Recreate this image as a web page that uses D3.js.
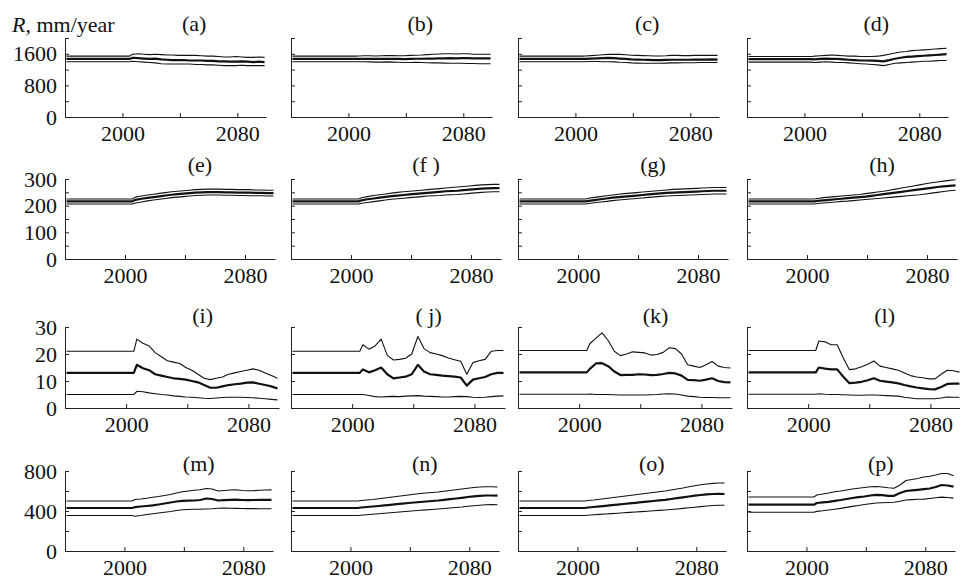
<!DOCTYPE html>
<html>
<head>
<meta charset="utf-8">
<script src="https://cdn.jsdelivr.net/npm/d3@7"></script>
<style>
    body { margin: 0; background: #fff; }
    svg text { font-family: "Liberation Serif", "Times New Roman", serif; }
</style>
</head>
<body>
<div id="chart"></div>
<script>
// * * * data * * *

// years of the sampled points (flat historical value, then projections)
const years = [1961, 2005, 2007, 2011, 2015, 2019, 2023, 2027, 2031, 2035, 2039, 2043, 2047,
    2051, 2055, 2059, 2063, 2067, 2071, 2075, 2079, 2083, 2087, 2091, 2095, 2099];

// each panel: [upper bound, median, lower bound]
const seriesA = [
    [1540,1540,1590,1600,1590,1580,1590,1580,1570,1570,1560,1560,1560,1560,1550,1540,1540,1530,1520,1520,1530,1520,1510,1510,1520,1510],
    [1470,1470,1500,1490,1480,1470,1480,1460,1450,1440,1440,1440,1430,1430,1430,1420,1420,1410,1410,1400,1400,1410,1400,1390,1400,1390],
    [1400,1400,1410,1400,1390,1380,1370,1350,1340,1340,1340,1340,1340,1330,1330,1320,1320,1310,1300,1300,1300,1310,1300,1300,1300,1300]
];
const seriesB = [
    [1540,1540,1545,1550,1550,1545,1550,1555,1555,1550,1550,1560,1565,1570,1580,1590,1595,1600,1600,1595,1600,1600,1590,1590,1590,1590],
    [1470,1470,1470,1475,1470,1470,1470,1475,1470,1470,1465,1470,1475,1475,1480,1480,1485,1485,1490,1485,1490,1490,1485,1485,1485,1485],
    [1400,1400,1400,1400,1395,1390,1390,1395,1390,1385,1380,1380,1385,1380,1375,1370,1370,1365,1360,1360,1360,1355,1355,1350,1350,1350]
];
const seriesC = [
    [1540,1540,1545,1555,1565,1575,1585,1590,1585,1575,1565,1560,1555,1550,1545,1545,1550,1560,1560,1555,1555,1560,1560,1560,1565,1560],
    [1470,1470,1470,1480,1485,1490,1495,1490,1480,1470,1460,1455,1450,1445,1440,1440,1445,1450,1450,1450,1450,1455,1455,1455,1460,1455],
    [1400,1400,1400,1405,1405,1400,1400,1395,1385,1380,1370,1365,1360,1360,1360,1360,1365,1370,1370,1375,1375,1375,1380,1380,1380,1380]
];
const seriesD = [
    [1530,1530,1540,1550,1560,1570,1560,1550,1540,1540,1530,1530,1530,1540,1560,1590,1620,1645,1660,1680,1690,1700,1710,1720,1730,1740],
    [1465,1465,1460,1470,1480,1470,1470,1460,1450,1440,1430,1430,1425,1420,1410,1440,1475,1500,1520,1530,1540,1550,1560,1570,1580,1590],
    [1390,1390,1380,1390,1400,1390,1380,1380,1370,1360,1350,1340,1330,1320,1300,1330,1360,1370,1380,1390,1400,1410,1410,1420,1430,1430]
];
const seriesE = [
    [225,225,232,236,240,243,246,249,252,254,256,258,260,261,262,262,262,261,261,260,260,260,259,259,258,258],
    [216,216,222,226,229,232,235,238,241,243,245,247,249,250,251,251,251,250,250,249,249,249,248,248,247,247],
    [206,206,210,214,218,221,224,227,230,232,234,236,238,239,240,240,240,239,239,238,238,237,237,237,236,236]
];
const seriesF = [
    [225,225,230,234,238,241,244,247,250,252,254,256,258,260,262,264,266,268,270,272,274,276,278,279,280,280],
    [216,216,220,224,227,230,233,236,238,240,242,244,246,248,250,252,254,255,256,258,260,262,264,265,266,266],
    [206,206,209,212,215,218,221,224,226,228,230,232,234,236,237,238,240,241,242,244,246,248,250,251,252,252]
];
const seriesG = [
    [225,225,228,231,234,237,240,243,245,247,249,251,253,255,257,259,261,262,263,264,265,266,267,268,268,268],
    [216,216,218,221,224,227,230,232,234,236,238,240,242,244,246,248,249,250,251,252,253,254,255,256,256,256],
    [206,206,208,211,214,216,219,221,223,225,227,229,231,233,235,236,237,238,239,240,241,242,243,244,244,244]
];
const seriesH = [
    [225,225,227,230,232,234,236,238,240,242,245,248,251,254,258,262,266,270,274,278,282,286,289,292,295,297],
    [216,216,218,220,222,224,226,228,230,232,234,237,240,243,246,249,252,255,258,261,264,267,270,272,274,276],
    [206,206,208,210,212,214,216,217,219,221,223,225,227,229,231,233,235,237,239,241,244,247,250,253,256,258]
];
const seriesI = [
    [21,21,25.5,24,23,20.5,19,17.5,17,16.5,15,14,12.5,11,10.5,11,11.5,12.5,13,13.5,14,14.5,14,13,12,11],
    [13,13,16,14.7,14,12.5,12,11.5,11,10.8,10.5,10,9.5,8.5,7.5,7.5,8,8.5,8.8,9,9.4,9.5,9,8.5,8,7.2],
    [5,5,6.2,6,5.6,5.3,5,4.8,4.5,4.3,4.1,4,3.8,3.6,3.5,3.7,3.9,4,4,4,3.9,3.8,3.6,3.4,3.2,3]
];
const seriesJ = [
    [21,21,23.4,21.8,23,25.5,19.5,17.8,18,18.4,20,26.5,22,20.5,20,19.4,18.5,17.9,17.3,12.5,16.8,17.5,18,21,21.3,21.3],
    [13,13,14.3,13.2,14,15,12.5,11,11.3,11.6,12.5,16,13.5,12.5,12.3,12,11.8,11.6,11.3,8.3,10.5,11,11.5,12.5,13,13],
    [5,5,5,4.6,4.2,4.1,4.2,4.3,4.2,4.4,4.5,4.6,4.4,4.3,4.2,4.1,4.1,4.2,4.3,4.2,4,3.9,4,4.2,4.4,4.5]
];
const seriesK = [
    [21.3,21.3,23.8,25.9,27.8,25,21,19.4,20,20.8,20.6,20.4,19.6,19.8,20.6,22.3,22,20,16,15.5,15,16,17.2,15.5,15,14.8],
    [13.2,13.2,14.5,16.5,16.6,15.5,13.5,12.2,12.3,12.3,12.5,12.4,12.2,12.3,12.6,13,12.8,12,10.4,10.3,10.1,10.5,11,10,9.6,9.5],
    [5.1,5.1,5.2,5,5,5,4.9,4.8,4.8,4.8,4.8,4.8,4.9,5,5.2,5.3,5.2,4.8,4.4,4.2,4,3.9,3.9,3.8,3.8,3.8]
];
const seriesL = [
    [21.3,21.3,24.8,24.5,23.4,23.4,18.5,14.2,14.5,15.3,16.2,17.4,15.5,15,14.5,14,13,12,11.5,11.2,10.8,10.8,12.5,14,13.8,13.3],
    [13.2,13.2,15,14.6,14.3,14.3,11.6,9.2,9.4,9.7,10.3,11,10.1,9.8,9.5,9.1,8.5,8,7.6,7.3,7,6.9,7.8,8.9,9,9],
    [5.1,5.1,5.3,5.1,5,5,4.9,4.8,4.7,4.7,4.8,4.8,4.7,4.6,4.5,4.4,4,3.7,3.4,3.4,3.4,3.4,3.7,4.1,4,4]
];
const seriesM = [
    [500,500,515,520,528,538,545,555,565,580,592,600,608,612,625,620,600,605,610,612,605,602,604,608,610,611],
    [430,430,438,445,450,456,465,475,485,495,502,503,505,510,525,520,505,508,512,513,510,508,510,512,512,512],
    [355,355,348,355,365,372,380,388,395,405,412,415,417,418,420,422,428,430,428,426,425,424,424,423,423,423]
];
const seriesN = [
    [500,500,505,510,515,522,530,538,545,552,560,568,575,580,585,590,598,605,612,620,628,635,640,642,642,640],
    [430,430,435,440,445,450,456,462,468,474,480,485,490,495,500,505,512,518,525,532,540,547,552,555,555,553],
    [355,355,358,362,367,372,377,382,387,392,397,402,407,411,415,420,425,430,435,440,447,453,458,462,464,463]
];
const seriesO = [
    [500,500,505,510,518,525,533,540,548,555,563,570,578,585,592,600,610,620,630,642,652,662,670,676,680,680],
    [430,430,435,440,446,452,458,464,470,476,482,488,494,500,506,512,520,528,536,545,553,560,566,570,572,570],
    [355,355,358,362,366,370,374,378,382,386,390,394,398,402,406,410,415,420,426,432,438,444,450,455,458,458]
];
const seriesP = [
    [540,540,560,570,580,592,600,610,620,628,635,642,645,640,632,628,660,705,715,725,740,748,760,775,775,752],
    [463,463,480,486,492,502,510,520,530,538,545,555,562,558,552,552,580,600,607,612,618,625,640,660,655,644],
    [387,387,396,402,410,418,426,436,446,455,465,473,480,483,485,487,498,510,514,517,519,525,532,539,535,529]
];

const panelTitles = ["(a)", "(b)", "(c)", "(d)", "(e)", "(f )", "(g)", "(h)",
    "(i)", "( j)", "(k)", "(l)", "(m)", "(n)", "(o)", "(p)"];

// axis ticks
const xTicks = [2000, 2040, 2080];
const xTickLabels = [2000, 2080];
const yMax = [2000, 300, 30, 800];
const yTicks = [
    [0, 400, 800, 1200, 1600, 2000],
    [0, 50, 100, 150, 200, 250, 300],
    [0, 10, 20, 30],
    [0, 200, 400, 600, 800]
];
const yTickLabels = [
    [0, 800, 1600],
    [0, 100, 200, 300],
    [0, 10, 20, 30],
    [0, 400, 800]
];

const allSeries = [seriesA, seriesB, seriesC, seriesD, seriesE, seriesF, seriesG, seriesH,
    seriesI, seriesJ, seriesK, seriesL, seriesM, seriesN, seriesO, seriesP];

// * * * layout * * *
const W = 960, H = 581;
const colX = [65, 291, 518, 747];
const rows = [
    { top: 38,  bottom: 117, width: 201, titleY: 31 },
    { top: 179, bottom: 259, width: 210, titleY: 172 },
    { top: 327, bottom: 408, width: 214, titleY: 323 },
    { top: 471, bottom: 551, width: 208, titleY: 471 }
];
const lineWidths = [1.1, 2.2, 1.1];
const fontSize = 22;

let svg = d3.select("#chart").append("svg")
    .attr("width", W)
    .attr("height", H)
    .style("background", "#fff");

// y-axis unit label
svg.append("text")
    .attr("x", 12)
    .attr("y", 32)
    .attr("font-size", fontSize)
    .attr("fill", "#111")
    .html('<tspan font-style="italic">R</tspan>, mm/year');

allSeries.forEach((series, i) => {
    let row = Math.floor(i / 4), col = i % 4;
    let r = rows[row];
    let x0 = colX[col];

    let x = d3.scaleLinear().domain([1960, 2100]).range([x0, x0 + r.width]);
    let y = d3.scaleLinear().domain([0, yMax[row]]).range([r.bottom, r.top]);

    let g = svg.append("g").attr("class", "panel");

    // x axis, ticks pointing inwards
    g.append("g")
        .attr("transform", `translate(0,${r.bottom})`)
        .call(d3.axisBottom(x)
            .tickValues(xTicks)
            .tickSize(-4)
            .tickSizeOuter(0)
            .tickPadding(8)
            .tickFormat(d => xTickLabels.includes(d) ? d : ""))
        .attr("font-size", fontSize)
        .attr("font-family", null);

    // y axis, labels only on the first column
    g.append("g")
        .attr("transform", `translate(${x0},0)`)
        .call(d3.axisLeft(y)
            .tickValues(yTicks[row])
            .tickSize(-4)
            .tickSizeOuter(0)
            .tickPadding(8)
            .tickFormat(d => (col === 0 && yTickLabels[row].includes(d)) ? d : ""))
        .attr("font-size", fontSize)
        .attr("font-family", null);

    g.selectAll(".domain, .tick line").attr("stroke", "#222");
    g.selectAll(".tick text").attr("fill", "#111");

    // upper, median, lower lines
    let line = d3.line()
        .x((d, k) => x(years[k]))
        .y(d => y(d));

    g.selectAll(".band-line")
        .data(series)
        .enter().append("path")
        .attr("class", "band-line")
        .attr("d", line)
        .attr("fill", "none")
        .attr("stroke", "#111")
        .attr("stroke-width", (d, k) => lineWidths[k])
        .attr("stroke-linejoin", "round");

    // panel letter
    g.append("text")
        .attr("x", x(2050))
        .attr("y", r.titleY)
        .attr("text-anchor", "middle")
        .attr("font-size", fontSize)
        .attr("fill", "#111")
        .text(panelTitles[i]);
});
</script>
</body>
</html>
